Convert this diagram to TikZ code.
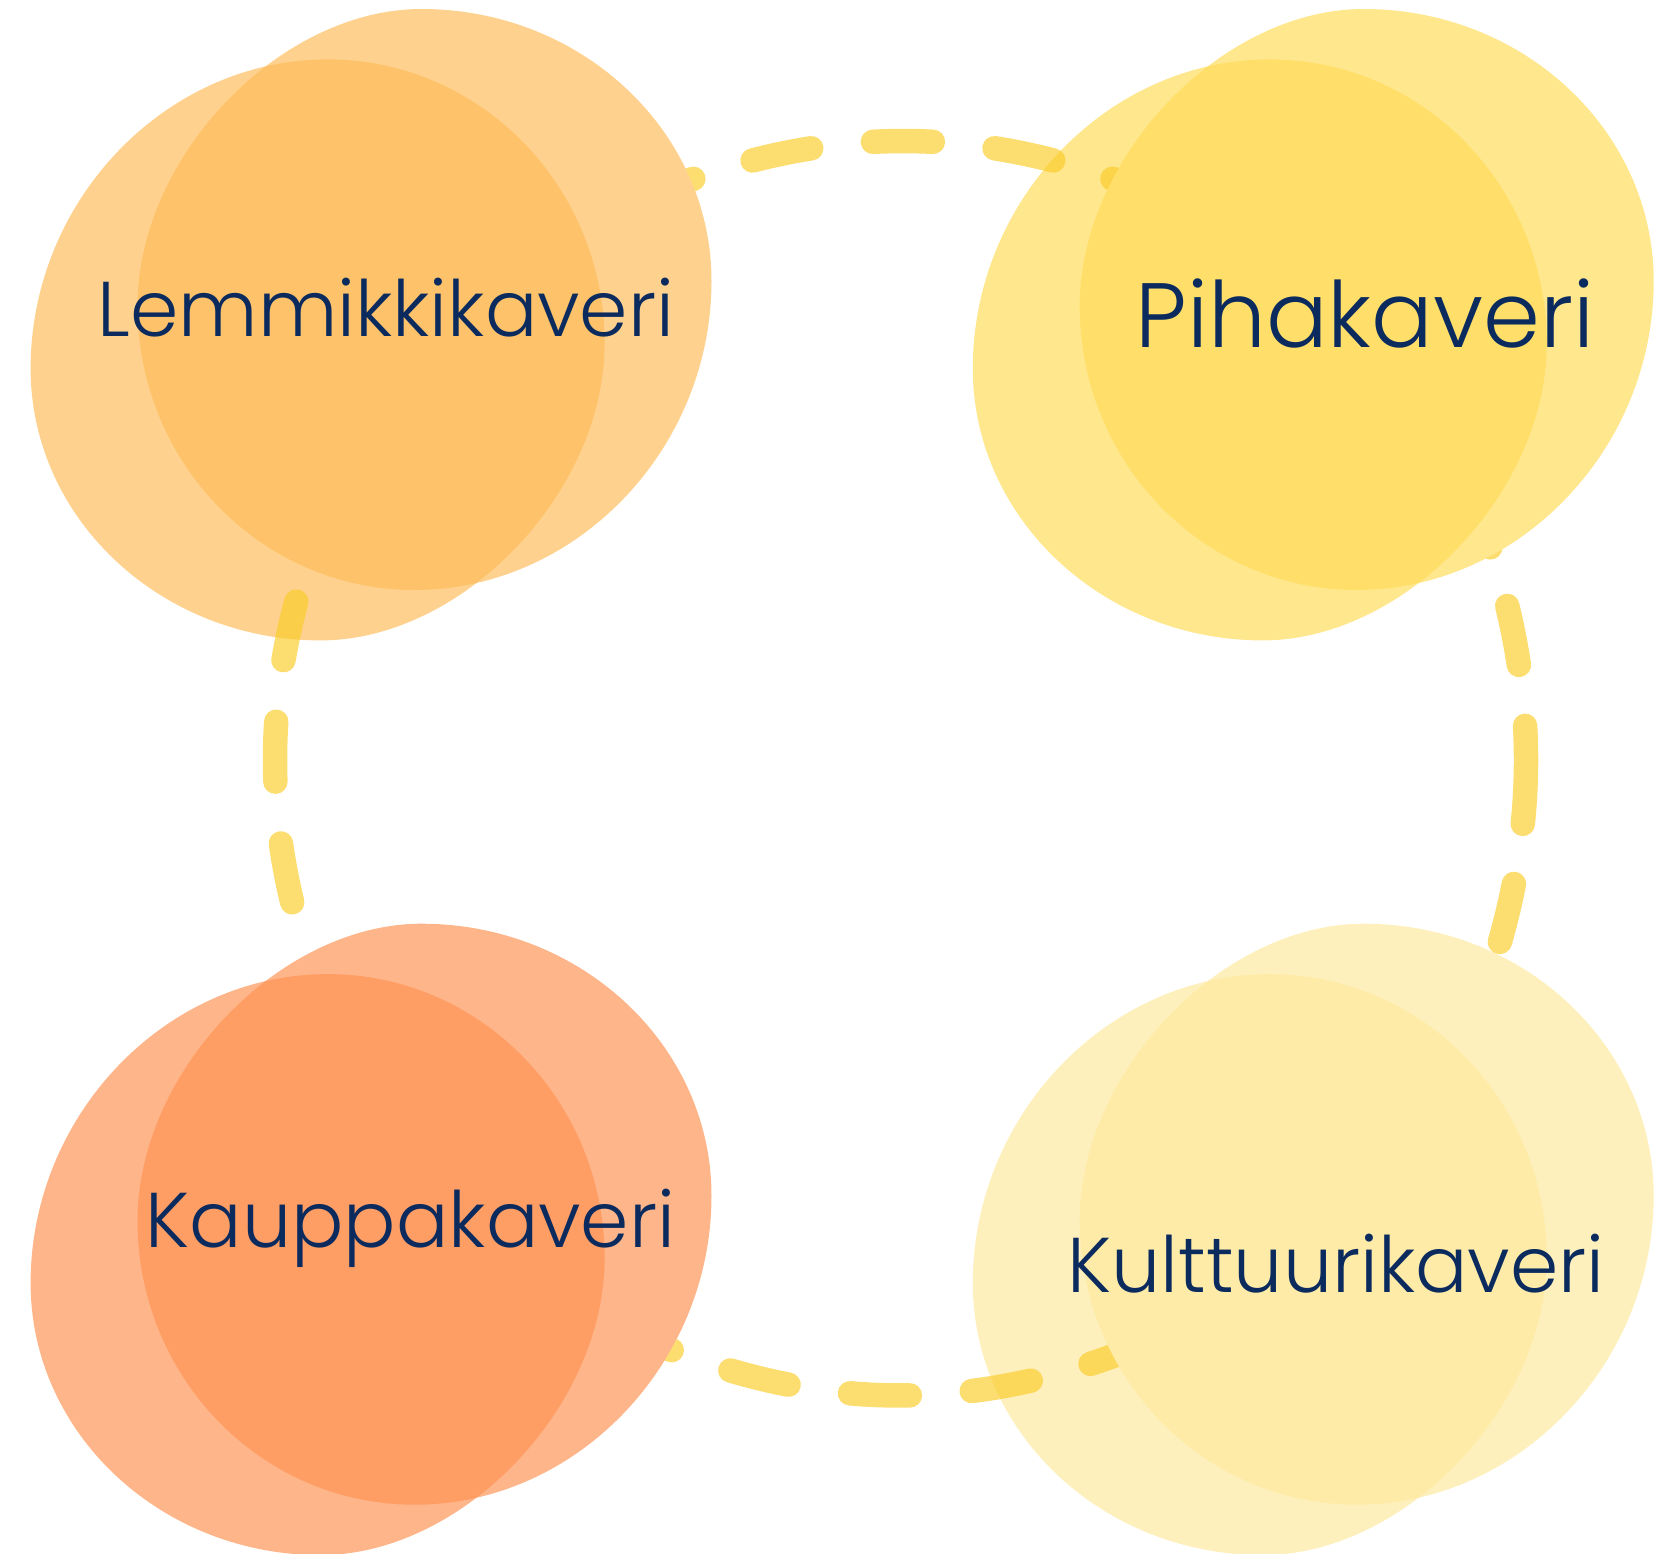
\documentclass[tikz,border=0pt]{standalone}
\usepackage{fontspec}
\newfontfamily\kaverifont{Poppins Light}
\definecolor{lemmikkiC}{HTML}{FEBC59}
\definecolor{pihaC}{HTML}{FFDB58}
\definecolor{kauppaC}{HTML}{FE9252}
\definecolor{kulttuuriC}{HTML}{FEE99E}
\definecolor{dashC}{HTML}{FBCC2A}
\definecolor{navy}{HTML}{0B2B5E}
% blob outline: centre x, centre y, turn (1 or -1)
\newcommand{\blob}[3]{%
  ({#1-3*#3},{#2-290*#3})
  .. controls ({#1+157*#3},{#2-290*#3}) and ({#1+287*#3},{#2-168*#3}) .. ({#1+287*#3},{#2-18*#3})
  .. controls ({#1+287*#3},{#2+150*#3}) and ({#1+152*#3},{#2+291*#3}) .. ({#1-10*#3},{#2+291*#3})
  .. controls ({#1-163*#3},{#2+291*#3}) and ({#1-287*#3},{#2+164*#3}) .. ({#1-287*#3},{#2+7*#3})
  .. controls ({#1-287*#3},{#2-142*#3}) and ({#1-145*#3},{#2-290*#3}) .. ({#1-3*#3},{#2-290*#3}) -- cycle}
\begin{document}
\begin{tikzpicture}[
    x=0.1mm, y=-0.1mm,
    bubble/.style={fill opacity=0.68},
    link/.style={draw=dashC, draw opacity=0.67, line width=2.45mm, line cap=round},
    kaveri/.style={text=navy, anchor=base, font=\kaverifont\fontsize{22.1}{27}\selectfont}
]
\useasboundingbox (0,0) rectangle (1660,1554);

% === BLOBS ===
\fill[bubble, lemmikkiC] \blob{317.6}{350.4}{-1};
\fill[bubble, lemmikkiC] \blob{424.5}{299}{1};
\fill[bubble, pihaC] \blob{1259.8}{350.4}{-1};
\fill[bubble, pihaC] \blob{1366.7}{299}{1};
\fill[bubble, kauppaC] \blob{317.6}{1265.1}{-1};
\fill[bubble, kauppaC] \blob{424.5}{1213.7}{1};
\fill[bubble, kulttuuriC] \blob{1259.8}{1265.1}{-1};
\fill[bubble, kulttuuriC] \blob{1366.7}{1213.7}{1};

% === DASHED LINKS ===
\coordinate (topL) at (600,220);
\coordinate (topR) at (1206,220);
\coordinate (botL) at (597,1315.6);
\coordinate (botR) at (1203,1315.6);
\coordinate (leftT) at (353,457);
\coordinate (leftB) at (353,1063);
\coordinate (rightT) at (1453.5,457);
\coordinate (rightB) at (1453.5,1063);

\begin{scope}
\clip (0,0) -- (0,1554) -- (1660,1554) -- (1660,0) -- cycle
    \blob{424.5}{299}{1} \blob{1366.7}{299}{1} \blob{424.5}{1213.7}{1} \blob{1366.7}{1213.7}{1};
\draw[link, dash pattern=on 6mm off 6.2mm, dash phase=7.99mm]
    (topL) .. controls +(202,-105.3) and +(-202,-105.3) .. (topR);
\draw[link, dash pattern=on 6mm off 6.2mm, dash phase=9.96mm]
    (botL) .. controls +(202,106.5) and +(-202,106.5) .. (botR);
\draw[link, dash pattern=on 6mm off 6.2mm on 6mm off 6.2mm on 6mm off 6.2mm on 6mm off 30mm, dash phase=69.24mm]
    (leftT) .. controls +(-104,202) and +(-104,-202) .. (leftB);
\draw[link, dash pattern=on 9.76mm off 6.1mm on 6.01mm off 6.13mm on 9.82mm off 6.07mm on 5.97mm off 20mm]
    (rightT) .. controls +(96.7,202) and +(96.7,-202) .. (rightB);
\end{scope}

% === LABELS ===
\node[kaveri] (lemmikki) at (386,336.7) {Lemmikkikaveri};
\node[kaveri, font=\kaverifont\fontsize{26}{31}\selectfont] (piha) at (1365,347) {Pihakaveri};
\node[kaveri] (kauppa) at (410.5,1247) {Kauppakaveri};
\node[kaveri] (kulttuuri) at (1336,1292) {Kulttuurikaveri};

\end{tikzpicture}
\end{document}
